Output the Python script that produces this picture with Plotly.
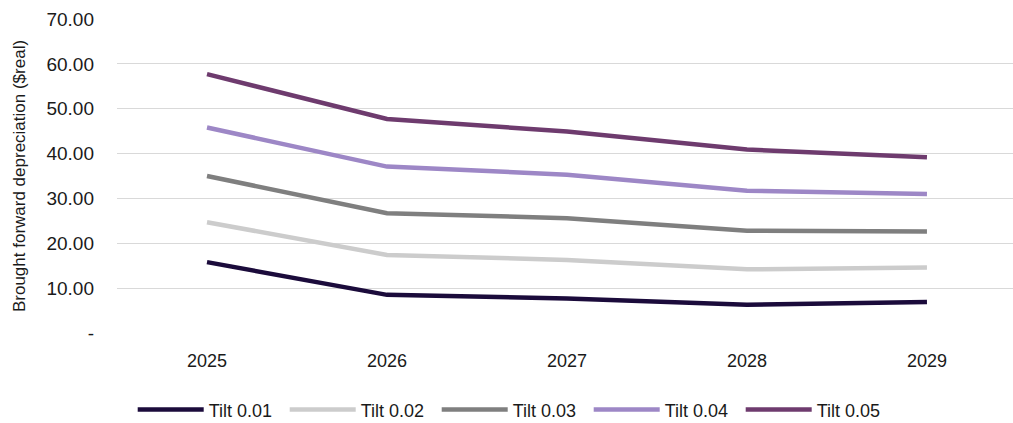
import plotly.graph_objects as go

years = ["2025", "2026", "2027", "2028", "2029"]
tilt_001 = [15.8, 8.5, 7.7, 6.3, 6.9]
tilt_002 = [24.7, 17.4, 16.3, 14.2, 14.6]
tilt_003 = [35.0, 26.7, 25.6, 22.8, 22.6]
tilt_004 = [45.8, 37.1, 35.3, 31.7, 31.0]
tilt_005 = [57.7, 47.7, 44.9, 40.9, 39.2]

series_names = ["Tilt 0.01", "Tilt 0.02", "Tilt 0.03", "Tilt 0.04", "Tilt 0.05"]
series_values = [tilt_001, tilt_002, tilt_003, tilt_004, tilt_005]
series_colors = ["#1b0b3b", "#cccccc", "#7f7f7f", "#9d87c6", "#6e3b6e"]

y_tickvals = [0, 10, 20, 30, 40, 50, 60, 70]
y_ticktext = ["-", "10.00", "20.00", "30.00", "40.00", "50.00", "60.00", "70.00"]

FONT = "Liberation Sans, Arial, sans-serif"

fig = go.Figure()
for name, vals, col in zip(series_names, series_values, series_colors):
    fig.add_trace(go.Scatter(
        x=years, y=vals, name=name, mode="lines",
        line=dict(color=col, width=4.5),
    ))

fig.update_layout(
    width=1013, height=423,
    margin=dict(l=117, r=0, t=19, b=90),
    paper_bgcolor="white", plot_bgcolor="white",
    font=dict(family=FONT, size=18, color="#1a1a1a"),
    showlegend=True,
    legend=dict(
        orientation="h", x=0.131, xref="container", xanchor="left",
        y=0.031, yref="container", yanchor="middle",
        font=dict(family=FONT, size=18, color="#1a1a1a"),
        itemwidth=66, traceorder="normal",
        entrywidth=71, entrywidthmode="pixels",
    ),
    xaxis=dict(
        type="category", range=[-0.5, 4.478],
        showgrid=False, zeroline=False, showline=False, ticks="",
        tickfont=dict(family=FONT, size=18, color="#1a1a1a"),
        ticklabelstandoff=15,
    ),
    yaxis=dict(
        range=[0, 70], tickvals=y_tickvals, ticktext=y_ticktext,
        showgrid=True, gridcolor="#d9d9d9", gridwidth=1,
        zeroline=False, showline=False, ticks="",
        tickfont=dict(family=FONT, size=19, color="#1a1a1a"),
        ticklabelstandoff=22,
        title=dict(text="Brought forward depreciation ($real)",
                   font=dict(family=FONT, size=17, color="#1a1a1a"), standoff=16),
    ),
)

fig.write_html("out.html")
